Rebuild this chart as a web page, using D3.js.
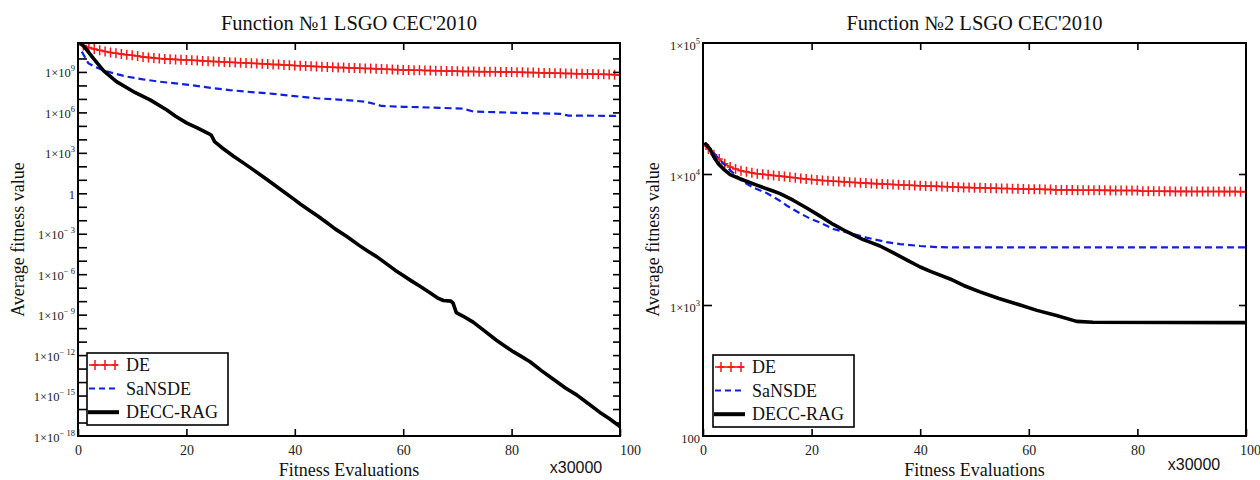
<!DOCTYPE html>
<html><head><meta charset="utf-8">
<script src="https://cdn.jsdelivr.net/npm/d3@7"></script>
<style>body{margin:0;background:#fff}svg{display:block}</style>
</head><body>
<svg id="c" width="1260" height="480"></svg>
<script>
// ---------------- DATA ----------------
const X_TICKS = [0, 20, 40, 60, 80, 100];
const X_TOP_TICKS = [20, 40, 60, 80];
const DE_X = d3.range(0, 101, 1); // one DE sample per x-unit

// Function 1
const F1_DE = [1.1e11, 9e10, 6.6e10, 5e10, 4e10, 3.3e10, 2.8e10, 2.4e10, 2.1e10, 1.9e10,
  1.7e10, 1.5e10, 1.3e10, 1.2e10, 1.1e10, 1e10, 9.3e9, 8.9e9, 8.5e9, 8.1e9,
  7.8e9, 7.4e9, 7.1e9, 6.6e9, 6.3e9, 6e9, 5.8e9, 5.5e9, 5.2e9, 5e9,
  4.8e9, 4.6e9, 4.4e9, 4.2e9, 4e9, 3.8e9, 3.6e9, 3.5e9, 3.3e9, 3.2e9,
  3e9, 2.9e9, 2.75e9, 2.6e9, 2.5e9, 2.4e9, 2.3e9, 2.2e9, 2.1e9, 2.1e9,
  2e9, 1.95e9, 1.9e9, 1.8e9, 1.78e9, 1.7e9, 1.66e9, 1.6e9, 1.5e9, 1.48e9,
  1.4e9, 1.38e9, 1.35e9, 1.32e9, 1.29e9, 1.26e9, 1.23e9, 1.2e9, 1.17e9, 1.15e9,
  1.12e9, 1.1e9, 1.07e9, 1.07e9, 1.05e9, 1.05e9, 1.02e9, 1.02e9, 1e9, 1e9,
  9.8e8, 9.5e8, 9.3e8, 9.1e8, 8.9e8, 8.7e8, 8.5e8, 8.3e8, 8.1e8, 7.9e8,
  7.8e8, 7.6e8, 7.4e8, 7.2e8, 7.1e8, 6.9e8, 6.8e8, 6.6e8, 6.5e8, 6.3e8,
  5.8e8];
const F1_SANSDE_X = [0.7, 1.9, 3, 5, 7, 9, 12, 15, 18, 21, 23, 25, 28, 32, 36, 40, 44, 48, 53, 55, 56, 60, 65, 71, 73, 78, 85, 89, 90.5, 100];
const F1_SANSDE = [3.2e10, 4.5e9, 2.5e9, 1.2e9, 7.1e8, 4.5e8, 2.8e8, 1.9e8, 1.4e8, 1.05e8, 7.9e7, 6.3e7, 4.5e7, 3.2e7, 2.4e7, 1.6e7, 1.12e7, 8.9e6, 6.3e6, 4e6, 3e6, 2.6e6, 2.3e6, 1.9e6, 1.15e6, 1e6, 8.5e5, 7.8e5, 5.8e5, 5.5e5];
const F1_DECC_X = [0.5, 1.5, 2.8, 4.7, 7.1, 10.2, 13.3, 16.4, 18, 20.1, 22, 24, 24.6, 25.2, 26.5, 28.7, 30.5, 32.5, 34.8, 37, 39.7, 41, 43, 44.3,
  46, 47.5, 49.6, 52, 53.5, 55.1, 57, 58.5, 60, 61.5, 63.1, 65, 66.5, 67.4, 68.8, 69.2, 69.8, 71, 72.9,
  75, 77.2, 79, 80.3, 82, 83.4, 85.5, 87.7, 90, 92, 94, 96.3, 98, 100];
const F1_DECC = [1.4e11, 5e10, 1.05e10, 1.26e9, 1.9e8, 3.5e7, 8.5e6, 1.5e6, 5.2e5, 1.6e5, 7.1e4, 2.8e4, 2e4, 6.8e3, 2.5e3, 5.6e2, 1.8e2, 50, 11, 2.5, 0.4, 0.16, 0.045, 0.02,
  6.3e-3, 2.2e-3, 6.3e-4, 1.26e-4, 5e-5, 2e-5, 5.6e-6, 2e-6, 7.9e-7, 3.2e-7, 1.26e-7, 4e-8, 1.6e-8, 1.12e-8, 1e-8, 7.1e-9, 1.4e-9, 7.9e-10, 2.8e-10,
  6.3e-11, 1.26e-11, 4e-12, 1.8e-12, 7.1e-13, 3.2e-13, 7.1e-14, 1.6e-14, 3.5e-15, 1.12e-15, 2.8e-16, 5.6e-17, 2e-17, 5e-18];
const F1_Y_TICK_VALUES = [1e9, 1e6, 1e3, 1, 1e-3, 1e-6, 1e-9, 1e-12, 1e-15, 1e-18];
const F1_Y_TICK_MAIN = ["1×10", "1×10", "1×10", "1", "1×10", "1×10", "1×10", "1×10", "1×10", "1×10"];
const F1_Y_TICK_SUP = ["9", "6", "3", "", "− 3", "− 6", "− 9", "− 12", "− 15", "− 18"];
const F1_Y_MINOR = [1e-17,1e-16,1e-15,1e-14,1e-13,1e-12,1e-11,1e-10,1e-9,1e-8,1e-7,1e-6,1e-5,1e-4,1e-3,1e-2,1e-1,1,1e1,1e2,1e3,1e4,1e5,1e6,1e7,1e8,1e9,1e10];

// Function 2
const F2_DE = [16800, 15500, 14000, 13000, 12000, 11300, 10900, 10600, 10400, 10200,
  10050, 9950, 9850, 9750, 9650, 9550, 9450, 9350, 9250, 9150,
  9080, 9000, 8930, 8870, 8810, 8760, 8710, 8660, 8610, 8560,
  8520, 8480, 8440, 8400, 8360, 8320, 8280, 8240, 8200, 8170,
  8140, 8110, 8080, 8050, 8020, 7990, 7960, 7930, 7900, 7880,
  7860, 7840, 7820, 7800, 7780, 7760, 7740, 7720, 7700, 7680,
  7660, 7650, 7640, 7630, 7620, 7560, 7550, 7545, 7540, 7530,
  7525, 7520, 7510, 7505, 7500, 7495, 7490, 7485, 7480, 7475,
  7470, 7390, 7385, 7380, 7377, 7374, 7371, 7368, 7365, 7362,
  7359, 7356, 7353, 7350, 7347, 7344, 7341, 7338, 7336, 7334,
  7332];
const F2_SANSDE_X = [0.5, 1, 3, 5, 7.4, 9.5, 11.7, 14, 15.4, 17.9, 19.7, 21.5, 24, 26, 27.7, 30.1, 33.8, 36.3, 40, 43, 46, 100];
const F2_SANSDE = [16500, 16200, 12900, 10700, 8700, 7800, 7160, 6300, 5750, 5000, 4570, 4270, 3800, 3630, 3470, 3270, 3020, 2920, 2820, 2770, 2750, 2750];
const F2_DECC_X = [0.5, 1.3, 2, 2.8, 4, 5, 6.8, 8, 9.9, 12.9, 14.2, 16.6, 19.1, 21.5, 24, 26, 27.7, 29.5, 31, 32.6, 35, 37.5, 40, 42, 45.5, 48, 51, 54.5, 58.4, 61.5, 65.1, 68.8, 71.8, 100];
const F2_DECC = [17000, 15500, 13500, 12000, 10700, 9900, 9200, 8800, 8220, 7410, 7080, 6310, 5500, 4790, 4120, 3720, 3430, 3160, 2990, 2820, 2510, 2210, 1950, 1800, 1580, 1410, 1260, 1120, 1000, 910, 830, 750, 738, 733];
const F2_Y_TICK_VALUES = [1e5, 1e4, 1e3, 100];
const F2_Y_TICK_MAIN = ["1×10", "1×10", "1×10", "100"];
const F2_Y_TICK_SUP = ["5", "4", "3", ""];
const F2_Y_MINOR = [1e3, 1e4];

const SERIES_NAMES = ["DE", "SaNSDE", "DECC-RAG"];
const TITLES = ["Function №1 LSGO CEC'2010", "Function №2 LSGO CEC'2010"];

// ---------------- DRAW ----------------
const SERIF = "'Liberation Serif','Times New Roman',serif";
const SANS = "'Liberation Sans',Arial,sans-serif";
const RED = "#f01818", BLUE = "#1020e0";
const svg = d3.select("#c");

const panels = [
  { id: 1, left: 78, right: 620, top: 43, bottom: 436, yDomain: [1e-18, 1.4e11],
    de: F1_DE, saX: F1_SANSDE_X, sa: F1_SANSDE, dcX: F1_DECC_X, dc: F1_DECC,
    tv: F1_Y_TICK_VALUES, tm: F1_Y_TICK_MAIN, ts: F1_Y_TICK_SUP, minor: F1_Y_MINOR,
    title: TITLES[0], labDy: 5.5, ylabX: 24, xMulX: 576, xMulY: 473, lastDx: 10, leg: [87, 353] },
  { id: 2, left: 703, right: 1246, top: 43, bottom: 436, yDomain: [100, 1e5],
    de: F2_DE, saX: F2_SANSDE_X, sa: F2_SANSDE, dcX: F2_DECC_X, dc: F2_DECC,
    tv: F2_Y_TICK_VALUES, tm: F2_Y_TICK_MAIN, ts: F2_Y_TICK_SUP, minor: F2_Y_MINOR,
    title: TITLES[1], labDy: 7, ylabX: 659, xMulX: 1194, xMulY: 470, lastDx: 4, leg: [713, 355] }
];

function crossPath(cx, cy) { return `M${cx - 3.5},${cy}h7M${cx},${cy - 5}v10`; }

panels.forEach(p => {
  const x = d3.scaleLinear().domain([0, 100]).range([p.left, p.right]);
  const y = d3.scaleLog().domain(p.yDomain).range([p.bottom, p.top]);
  const g = svg.append("g");
  const clipId = "clip" + p.id;
  g.append("clipPath").attr("id", clipId).append("rect")
    .attr("x", p.left).attr("y", p.top).attr("width", p.right - p.left).attr("height", p.bottom - p.top);
  const plot = g.append("g").attr("clip-path", `url(#${clipId})`);
  const line = d3.line().x(d => x(d[0])).y(d => y(d[1]));

  const deData = d3.zip(DE_X, p.de);
  plot.append("path").datum(deData).attr("d", line).attr("fill", "none")
    .attr("stroke", RED).attr("stroke-width", 1.6);
  plot.append("g").selectAll("path").data(deData).join("path")
    .attr("d", d => crossPath(x(d[0]), y(d[1])))
    .attr("stroke", RED).attr("stroke-width", 1.5).attr("fill", "none");
  plot.append("path").datum(d3.zip(p.saX, p.sa)).attr("d", line).attr("fill", "none")
    .attr("stroke", BLUE).attr("stroke-width", 2.2).attr("stroke-dasharray", "7,4");
  plot.append("path").datum(d3.zip(p.dcX, p.dc)).attr("d", line).attr("fill", "none")
    .attr("stroke", "#000").attr("stroke-width", 3.6).attr("stroke-linejoin", "round").attr("stroke-linecap", "round");

  // axes (ticks inward)
  const styleAxis = s => { s.select(".domain").remove(); s.selectAll(".tick line").attr("stroke-width", 1.6); };
  const bx = g.append("g").attr("transform", `translate(0,${p.bottom})`)
    .call(d3.axisBottom(x).tickValues(X_TICKS).tickSize(-7).tickPadding(9).tickFormat(d3.format("d")))
    .call(styleAxis);
  bx.selectAll("text").attr("font-family", SERIF).attr("font-size", 14).attr("fill", "#222");
  bx.selectAll(".tick").filter(d => d === 100).select("text").attr("dx", p.lastDx);
  g.append("g").attr("transform", `translate(0,${p.top})`)
    .call(d3.axisTop(x).tickValues(X_TOP_TICKS).tickSize(-7).tickFormat("")).call(styleAxis);
  g.append("g").attr("transform", `translate(${p.left},0)`)
    .call(d3.axisLeft(y).tickValues(p.minor).tickSize(-9).tickFormat("")).call(styleAxis);
  g.append("g").attr("transform", `translate(${p.right},0)`)
    .call(d3.axisRight(y).tickValues(p.minor).tickSize(-7).tickFormat("")).call(styleAxis);

  g.append("rect").attr("x", p.left).attr("y", p.top).attr("width", p.right - p.left).attr("height", p.bottom - p.top)
    .attr("fill", "none").attr("stroke", "#000").attr("stroke-width", 2);

  // y tick labels
  p.tv.forEach((v, i) => {
    const t = g.append("text").attr("x", p.left - 3).attr("y", y(v) + p.labDy)
      .attr("text-anchor", "end").attr("font-family", SERIF).attr("font-size", 12.5).attr("fill", "#222");
    t.append("tspan").text(p.tm[i]);
    if (p.ts[i]) t.append("tspan").attr("dy", -6).attr("font-size", 8.5).text(p.ts[i]);
  });

  // titles and axis labels
  g.append("text").attr("x", (p.left + p.right) / 2).attr("y", 30).attr("text-anchor", "middle")
    .attr("font-family", SERIF).attr("font-size", 20.5).attr("fill", "#111").text(p.title);
  g.append("text").attr("x", (p.left + p.right) / 2).attr("y", 476).attr("text-anchor", "middle")
    .attr("font-family", SERIF).attr("font-size", 18).attr("fill", "#111").text("Fitness Evaluations");
  g.append("text").attr("transform", `translate(${p.ylabX},${(p.top + p.bottom) / 2}) rotate(-90)`)
    .attr("text-anchor", "middle").attr("font-family", SERIF).attr("font-size", 18).attr("fill", "#111")
    .text("Average fitness value");
  g.append("text").attr("x", p.xMulX).attr("y", p.xMulY).attr("text-anchor", "middle")
    .attr("font-family", SANS).attr("font-size", 16).attr("fill", "#111").text("x30000");

  // legend
  const [lx, ly] = p.leg;
  const lg = g.append("g");
  lg.append("rect").attr("x", lx).attr("y", ly).attr("width", 141).attr("height", 72)
    .attr("fill", "#fff").attr("stroke", "#000").attr("stroke-width", 1.6);
  SERIES_NAMES.forEach((name, i) => {
    const by = ly + 18 + i * 23.6;
    const sy = by - 6;
    if (i === 0) {
      lg.append("line").attr("x1", lx + 2).attr("x2", lx + 31).attr("y1", sy).attr("y2", sy)
        .attr("stroke", RED).attr("stroke-width", 1.6);
      [8, 18, 28].forEach(o => lg.append("path").attr("d", crossPath(lx + o, sy))
        .attr("stroke", RED).attr("stroke-width", 1.5));
    } else if (i === 1) {
      lg.append("line").attr("x1", lx + 2).attr("x2", lx + 31).attr("y1", sy).attr("y2", sy)
        .attr("stroke", BLUE).attr("stroke-width", 2).attr("stroke-dasharray", "6,4");
    } else {
      lg.append("line").attr("x1", lx + 1).attr("x2", lx + 32).attr("y1", sy).attr("y2", sy)
        .attr("stroke", "#000").attr("stroke-width", 4);
    }
    lg.append("text").attr("x", lx + 39).attr("y", by).attr("font-family", SERIF).attr("font-size", 18)
      .attr("fill", "#111").text(name);
  });
});
</script>
</body></html>
